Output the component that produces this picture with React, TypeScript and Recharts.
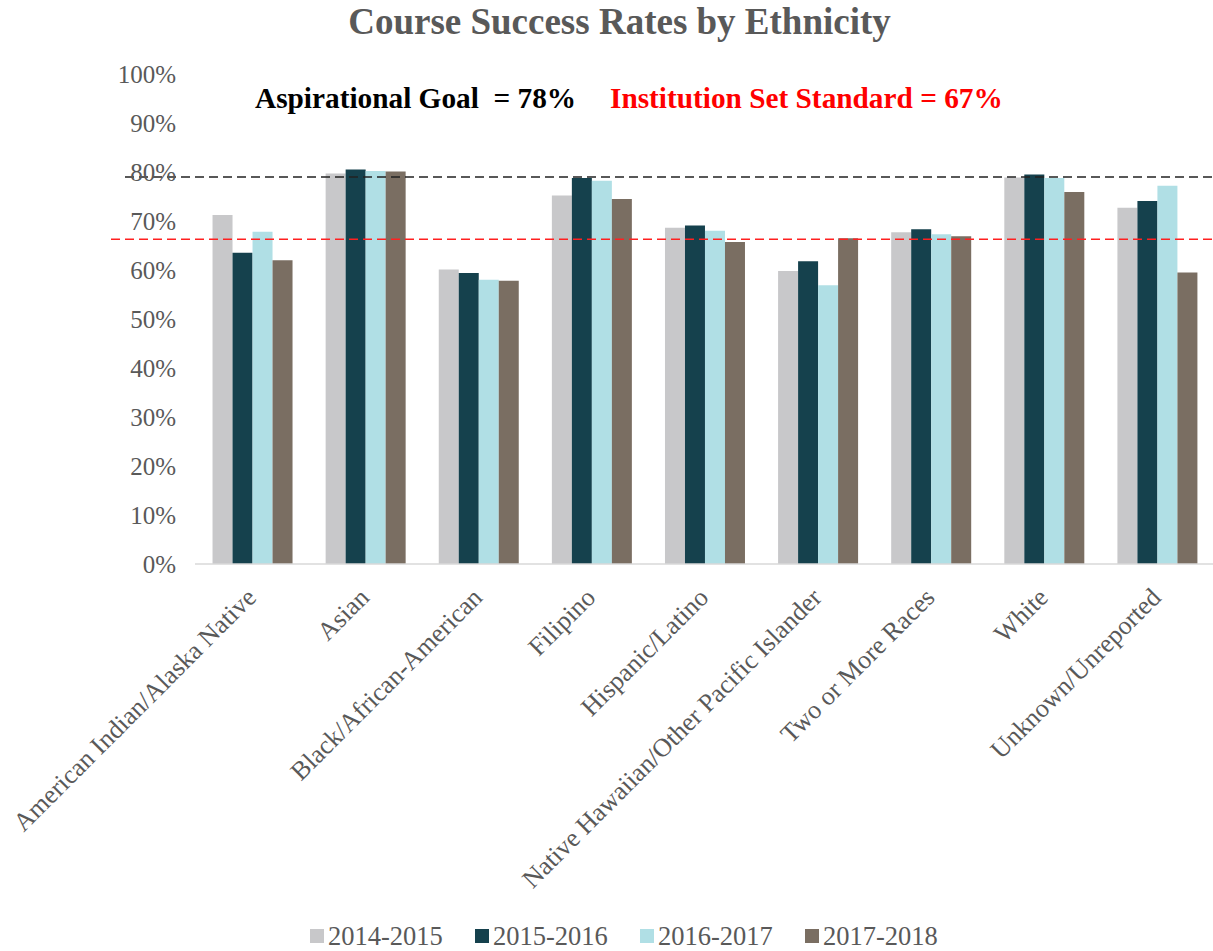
import React from 'react';
import { BarChart, Bar, XAxis, YAxis, ReferenceLine, Legend } from 'recharts';

const categories = [
  'American Indian/Alaska Native',
  'Asian',
  'Black/African-American',
  'Filipino',
  'Hispanic/Latino',
  'Native Hawaiian/Other Pacific Islander',
  'Two or More Races',
  'White',
  'Unknown/Unreported',
];
const seriesNames = ['2014-2015', '2015-2016', '2016-2017', '2017-2018'];
const seriesColors = ['#C8C8CA', '#15414D', '#B0DFE5', '#7A6E62'];
const values2014 = [71.2, 79.7, 60.1, 75.2, 68.6, 59.8, 67.7, 78.9, 72.7];
const values2015 = [63.5, 80.5, 59.4, 78.8, 69.1, 61.8, 68.3, 79.5, 74.1];
const values2016 = [67.8, 80.2, 58.0, 78.2, 68.0, 56.9, 67.3, 78.8, 77.2];
const values2017 = [62.0, 80.1, 57.8, 74.5, 65.7, 66.5, 66.9, 75.9, 59.5];
const yTicks = [0, 10, 20, 30, 40, 50, 60, 70, 80, 90, 100];
const aspirationalGoal = 79.0;
const institutionStandard = 66.3;
const titleText = 'Course Success Rates by Ethnicity';
const goalText = 'Aspirational Goal  = 78%';
const standardText = 'Institution Set Standard = 67%';

const allValues = [values2014, values2015, values2016, values2017];
const data = categories.map((c, i) => {
  const row: any = { name: c };
  seriesNames.forEach((s, j) => {
    row[s] = allValues[j][i];
  });
  return row;
});

const FONT = '"Liberation Serif", "Times New Roman", serif';
const GRAY = '#595959';

const XTick = (props: any) => {
  const { x, y, payload } = props;
  const px = x + 6;
  const py = y + 27;
  return (
    <text
      x={px}
      y={py}
      transform={`rotate(-45, ${px}, ${py})`}
      textAnchor="end"
      fontSize={26}
      fill={GRAY}
      fontFamily={FONT}
    >
      {payload.value}
    </text>
  );
};

const extendedLine = (color: string, extend: number) => (props: any) => (
  <line
    x1={props.x1 - extend}
    y1={props.y1}
    x2={props.x2}
    y2={props.y2}
    stroke={color}
    strokeWidth={1.5}
    strokeDasharray="9 5"
  />
);

const LegendContent = (props: any) => {
  const { payload } = props;
  return (
    <div
      style={{
        display: 'flex',
        justifyContent: 'flex-start',
        paddingLeft: 310,
        height: 30,
        alignItems: 'center',
        fontFamily: FONT,
        fontSize: 26.5,
        color: GRAY,
      }}
    >
      {payload.map((p: any) => (
        <div key={p.value} style={{ display: 'flex', alignItems: 'center', width: 165 }}>
          <div style={{ width: 14, height: 14, background: p.color, marginRight: 4 }} />
          <span>{p.value}</span>
        </div>
      ))}
    </div>
  );
};

export default function App() {
  return (
    <div style={{ position: 'absolute', left: 0, top: 0, width: 1213, height: 951, background: '#fff' }}>
      <div
        style={{
          position: 'absolute',
          top: 0,
          left: 13,
          width: 1213,
          textAlign: 'center',
          fontFamily: FONT,
          fontWeight: 'bold',
          fontSize: 37,
          color: GRAY,
          lineHeight: '44px',
        }}
      >
        {titleText}
      </div>
      <div
        style={{
          position: 'absolute',
          top: 80,
          left: 255,
          fontFamily: FONT,
          fontWeight: 'bold',
          fontSize: 29.3,
          color: '#000',
          whiteSpace: 'pre',
          lineHeight: '36px',
        }}
      >
        {goalText}
      </div>
      <div
        style={{
          position: 'absolute',
          top: 80,
          left: 610,
          fontFamily: FONT,
          fontWeight: 'bold',
          fontSize: 29.3,
          color: '#FF0000',
          whiteSpace: 'pre',
          lineHeight: '36px',
        }}
      >
        {standardText}
      </div>
      <div style={{ position: 'absolute', left: 0, top: 0 }}>
        <BarChart
          width={1213}
          height={951}
          data={data}
          margin={{ top: 74, right: 0, left: 0, bottom: 0 }}
          barCategoryGap="15.5%"
          barGap={0}
        >
          <XAxis
            dataKey="name"
            interval={0}
            height={357}
            tick={<XTick />}
            tickLine={false}
            axisLine={{ stroke: '#D9D9D9', strokeWidth: 1.5 }}
          />
          <YAxis
            width={195}
            domain={[0, 100]}
            ticks={yTicks}
            tickFormatter={(v: number) => `${v}%`}
            axisLine={false}
            tickLine={false}
            tickMargin={13}
            tick={{ fontSize: 25, fill: GRAY, fontFamily: FONT }}
          />
          {seriesNames.map((s, j) => (
            <Bar key={s} dataKey={s} fill={seriesColors[j]} isAnimationActive={false} />
          ))}
          <ReferenceLine y={aspirationalGoal} shape={extendedLine('#222222', 70)} />
          <ReferenceLine y={institutionStandard} shape={extendedLine('#FF2020', 84)} />
          <Legend verticalAlign="bottom" content={<LegendContent />} />
        </BarChart>
      </div>
    </div>
  );
}
